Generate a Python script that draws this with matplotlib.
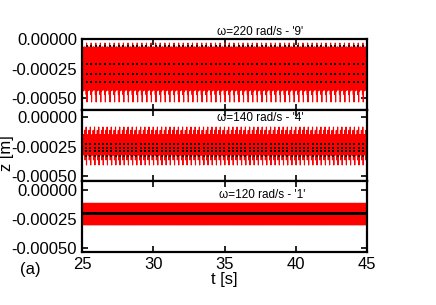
import numpy as np
import matplotlib
matplotlib.use("Agg")
import matplotlib.pyplot as plt
from matplotlib.ticker import FormatStrFormatter

plt.rcParams['font.family'] = ['Liberation Sans', 'DejaVu Sans']
plt.rcParams['axes.unicode_minus'] = False

# time window [s]
t_ini, t_fim = 25.0, 45.0

# one beat of each response: z at the max / min of every fast cycle [m]
# omega = 220 rad/s ('9')
beat_220 = 0.323
z220_max = [-0.000034, -0.000068, -0.000070, -0.000066, -0.000072, -0.000068]
z220_min = [-0.000532, -0.000440, -0.000430, -0.000432, -0.000428, -0.000470]
z220_pontos = [-0.000059, -0.000211, -0.000296, -0.000363]

# omega = 140 rad/s ('4')
beat_140 = 0.294
z140_max = [-0.000084, -0.000150, -0.000152, -0.000148, -0.000112, -0.000150]
z140_min = [-0.000405, -0.000320, -0.000318, -0.000322, -0.000362, -0.000318]
z140_pontos = [-0.000227, -0.000261, -0.000286, -0.000329]

# omega = 120 rad/s ('1')
beat_120 = 0.0524
z120_max = [-0.000112, -0.000113]
z120_min = [-0.000295, -0.000297]
z120_pontos = [-0.000199]

titulos = ["\u03c9=220 rad/s - '9'", "\u03c9=140 rad/s - '4'", "\u03c9=120 rad/s - '1'"]
ylims = [(-0.0006, 0.0), (-0.00054, 0.00006), (-0.00053, 0.00008)]


def serie(beat, zmax, zmin):
    # zigzag between max and min values, beat repeated over the window
    n = len(zmax)
    nb = int(np.ceil((t_fim - t_ini) / beat))
    dt = beat / n
    t, z = [], []
    for k in range(nb):
        for i in range(n):
            t0 = t_ini + k * beat + i * dt
            t += [t0, t0 + dt / 2]
            z += [zmax[i], zmin[i]]
    return np.array(t), np.array(z)


def pontos(beat, niveis):
    tp = np.arange(t_ini, t_fim, beat)
    return [(tp, np.full(tp.size, zz)) for zz in niveis]


fig = plt.figure(figsize=(4.36, 3.05), dpi=100)
axs = fig.subplots(3, 1, sharex=True)
fig.subplots_adjust(left=0.188, right=0.842, top=0.872, bottom=0.174, hspace=0)

dados = [(beat_220, z220_max, z220_min, z220_pontos, 0.323, 's', 1.6),
         (beat_140, z140_max, z140_min, z140_pontos, 0.294, 's', 1.6),
         (beat_120, z120_max, z120_min, z120_pontos, 0.0524, 'o', 2.1)]

for ax, (beat, zmax, zmin, niv, bp, mk, ms), yl in zip(axs, dados, ylims):
    t, z = serie(beat, zmax, zmin)
    ax.plot(t, z, color='red', lw=0.8)
    for tp, zp in pontos(bp, niv):
        ax.plot(tp, zp, ls='none', marker=mk, ms=ms, color='black', mew=0)
    ax.set_xlim(t_ini, t_fim)
    ax.set_ylim(*yl)
    ax.set_yticks([0.0, -0.00025, -0.0005])
    ax.yaxis.set_major_formatter(FormatStrFormatter('%.5f'))
    ax.set_xticks([25, 30, 35, 40, 45])
    ax.tick_params(direction='in', top=True, right=True, labelsize=12, length=4, width=1.2)
    for s in ax.spines.values():
        s.set_linewidth(1.6)

fig.text(0.596, 0.895, titulos[0], ha='center', va='center', fontsize=8.5)
fig.text(0.596, 0.613, titulos[1], ha='center', va='center', fontsize=8.5)
fig.text(0.601, 0.361, titulos[2], ha='center', va='center', fontsize=8.5)

fig.text(0.016, 0.498, 'z [m]', rotation=90, ha='center', va='center', fontsize=12)
fig.text(0.515, 0.085, 't [s]', ha='center', va='center', fontsize=12)
fig.text(0.069, 0.115, '(a)', ha='center', va='center', fontsize=12)

fig.savefig('out.png', dpi=100)
